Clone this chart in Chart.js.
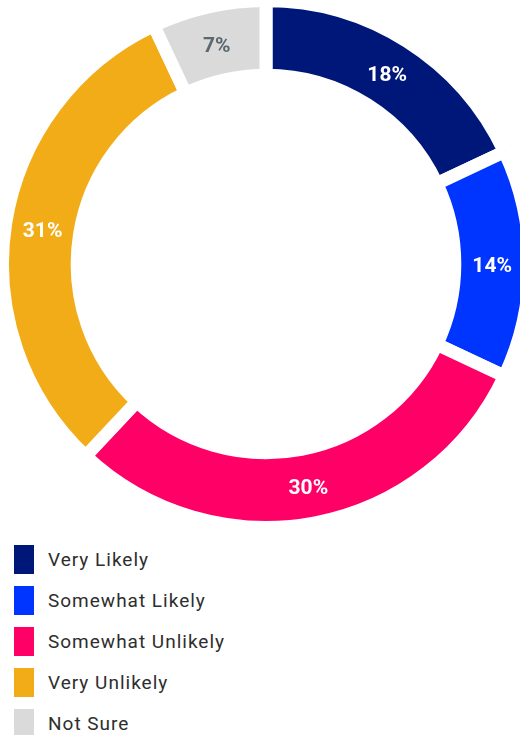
<!DOCTYPE html>
<html>
<head>
<meta charset="utf-8">
<script src="https://cdn.jsdelivr.net/npm/chart.js@4.4.1/dist/chart.umd.min.js"></script>
<style>
  html, body { margin: 0; padding: 0; width: 520px; height: 735px; overflow: hidden; background: #fff; }
  #wrap { position: absolute; left: 0; top: 0; width: 532px; height: 528px; }
  #legend { position: absolute; left: 14px; top: 545px; margin: 0; padding: 0; list-style: none; }
  #legend li { display: flex; align-items: center; height: 29px; margin-bottom: 12px; }
  #legend .box { width: 20px; height: 29px; margin-right: 14px; }
  #legend .txt { font-family: Roboto, "Noto Sans", sans-serif; font-size: 19px; color: #2e2e2e; letter-spacing: 1px; }
</style>
</head>
<body>
<div id="wrap"><canvas id="c" width="532" height="528"></canvas></div>
<ul id="legend"></ul>
<script>
const categories = ["Very Likely", "Somewhat Likely", "Somewhat Unlikely", "Very Unlikely", "Not Sure"];
const values = [18, 14, 30, 31, 7];
const colors = ["#00177a", "#0035ff", "#ff0066", "#f2ac18", "#dadada"];
const labelColors = ["#ffffff", "#ffffff", "#ffffff", "#ffffff", "#5c6870"];

const labelPlugin = {
  id: 'sliceLabels',
  afterDatasetsDraw(chart) {
    const ctx = chart.ctx;
    const meta = chart.getDatasetMeta(0);
    ctx.save();
    ctx.font = 'bold 21px Roboto, "Noto Sans", sans-serif';
    ctx.textAlign = 'center';
    ctx.textBaseline = 'middle';
    meta.data.forEach((arc, i) => {
      const p = arc.getProps(['x', 'y', 'startAngle', 'endAngle', 'innerRadius', 'outerRadius'], true);
      const a = (p.startAngle + p.endAngle) / 2;
      const r = (p.innerRadius + p.outerRadius) / 2;
      ctx.fillStyle = labelColors[i];
      ctx.fillText(values[i] + '%', p.x + Math.cos(a) * r, p.y + Math.sin(a) * r + 3);
    });
    ctx.restore();
  }
};

const chart = new Chart(document.getElementById('c'), {
  type: 'doughnut',
  data: {
    labels: categories,
    datasets: [{
      data: values,
      backgroundColor: colors,
      borderColor: '#ffffff',
      borderWidth: 13,
      borderJoinStyle: 'miter',
      hoverOffset: 0
    }]
  },
  options: {
    responsive: false,
    animation: false,
    radius: 263.5,
    cutout: 184.5,
    layout: { padding: 0 },
    plugins: {
      legend: { display: false },
      tooltip: { enabled: false }
    },
    events: []
  },
  plugins: [labelPlugin]
});

const legend = document.getElementById('legend');
chart.data.labels.forEach((lab, i) => {
  const li = document.createElement('li');
  const box = document.createElement('span');
  box.className = 'box';
  box.style.background = chart.data.datasets[0].backgroundColor[i];
  const t = document.createElement('span');
  t.className = 'txt';
  t.textContent = lab;
  li.appendChild(box);
  li.appendChild(t);
  legend.appendChild(li);
});
</script>
</body>
</html>
